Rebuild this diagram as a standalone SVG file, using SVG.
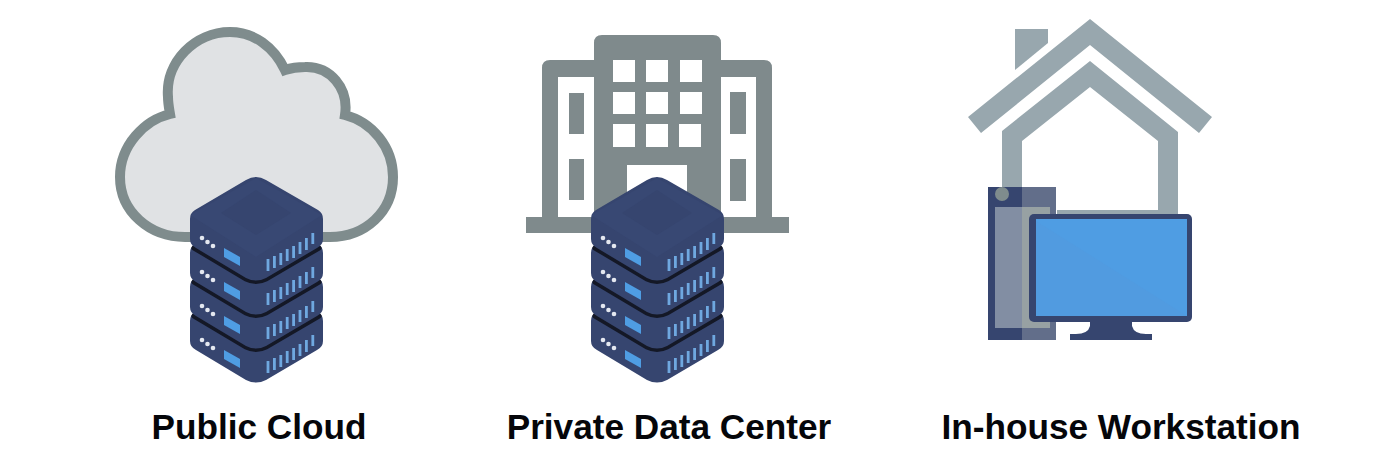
<svg xmlns="http://www.w3.org/2000/svg" width="1400" height="466" viewBox="0 0 1400 466">
<style>
.lbl{font-family:"Liberation Sans",Arial,sans-serif;font-weight:700;font-size:35.2px;fill:#05060a;text-anchor:middle}
.slab{fill:#36456f}
.gap{fill:none;stroke:#141826;stroke-width:5;stroke-linecap:round}
.led{fill:#e4e8f0}
.bl{fill:#4f9de3}
.bar{fill:none;stroke:#6fa8e0;stroke-width:2.8}
.bld{fill:#7f8a8c}
.win{fill:#fff}
.rf{fill:#98a7ae}
</style>
<defs>
<path id="shape" class="slab" d="M-66,42Q-66,36 -61,33L-10,3Q0,-3 10,3L62,33Q67,36 67,42V62Q67,68 61,71L10,101Q0,106 -10,101L-60,71Q-66,68 -66,62Z"/>
<path id="edge" class="gap" d="M-62,71L-10,102Q0,107 10,102L63,71"/>
<g id="slabDetail">
<circle class="led" cx="-54" cy="61" r="2.300"/><circle class="led" cx="-48.500" cy="65" r="2.300"/><circle class="led" cx="-43" cy="69" r="2.300"/>
<path class="bl" d="M-32,71L-16,80V89L-32,80Z"/>
<path class="bar" d="M12,82V94M18.400,79V91M24.800,76V88M31.200,72V84M37.600,69V81M44,65V77M50.400,61V73M56.800,56V67"/>
</g>
<g id="server">
<use href="#shape" y="102"/><use href="#edge" y="68"/>
<use href="#shape" y="68"/><use href="#edge" y="34"/>
<use href="#shape" y="34"/><use href="#edge"/>
<use href="#shape"/>
<path fill="#3d4d7c" d="M0,1L66,38L0,80L-66,38Z" opacity=".35"/>
<path fill="#36456f" d="M0,13L35,36L0,58L-35,36Z"/>
<use href="#slabDetail"/>
<use href="#slabDetail" y="34"/>
<use href="#slabDetail" y="68"/>
<use href="#slabDetail" y="102"/>
</g>
</defs>

<g id="public-cloud">
<path fill="#e0e2e4" stroke="#7f8c8d" stroke-width="10" d="M170,114C145,120 120,145 120,177C120,212 150,237 185,237H330C365,237 393,212 393,177C393,147 372,122 345,115C349,88 330,66 305,67C298,67 291,68 285,70C274,47 254,32 230,32C195,32 165,62 168,97C168,103 169,108 170,114Z"/>
<use href="#server" x="256" y="177"/>
<text class="lbl" x="259" y="439">Public Cloud</text>
</g>

<g id="private-data-center">
<path class="bld" d="M526,217H542V68Q542,60 550,60H594V43Q594,35 602,35H713Q721,35 721,43V60H764Q772,60 772,68V217H789V233H526Z"/>
<path class="win" d="M558,77H594V217H558ZM721,77H756V217H721Z"/>
<path class="bld" d="M569,93H584V134H569ZM569,159H584V200H569ZM730,92H746V134H730ZM730,159H746V201H730Z"/>
<path class="win" d="M613,60H635V82H613ZM646,60H668V82H646ZM680,60H702V82H680ZM613,92H635V114H613ZM646,92H668V114H646ZM680,92H702V114H680ZM613,124H635V147H613ZM646,124H668V147H646ZM679,124H701V147H679ZM627,165H687V210H627Z"/>
<use href="#server" x="657" y="177"/>
<text class="lbl" x="669" y="439">Private Data Center</text>
</g>

<g id="in-house-workstation">
<path class="rf" d="M1090,19L1212,117L1199,133L1090,45L981,133L968,117Z"/>
<path class="rf" d="M1015,29H1048V43L1015,70Z"/>
<path class="rf" d="M1090,61L1178,132V216H1057V210H1158V141L1090,87L1022,141V190H1002V131Z"/>
<rect x="988" y="187" width="68" height="153" fill="#36456f"/>
<path fill="#626e8a" d="M1022,187H1056V340H1022Z"/>
<rect x="995" y="207" width="27" height="121" fill="#828ea3"/>
<rect x="1022" y="207" width="28" height="121" fill="#97a1a3"/>
<circle cx="1002" cy="194" r="7" fill="#7f8c8d"/>
<path fill="#36456f" d="M1090,320H1132V326Q1134,334 1146,334H1152V340H1070V334H1076Q1088,334 1090,326Z"/>
<rect x="1029" y="214" width="163" height="108" rx="5" fill="#36456f"/>
<rect x="1036" y="219" width="151" height="97" fill="#4f9de3"/>
<path fill="#519be0" d="M1036,221V316H1187Z"/>
<text class="lbl" x="1121" y="439">In-house Workstation</text>
</g>
</svg>
